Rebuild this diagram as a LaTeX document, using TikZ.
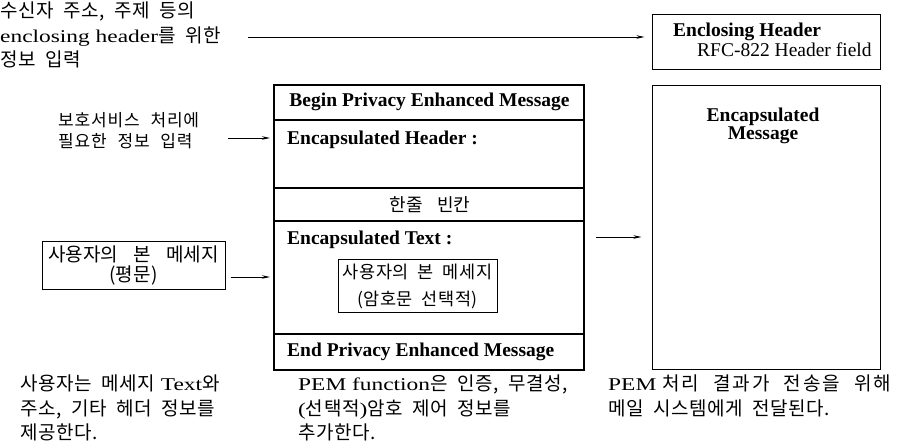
\documentclass[tikz,border=0pt]{standalone}
\usepackage{fontspec}
\setmainfont{Liberation Serif}
\newfontfamily\kr{Noto Sans CJK KR}[LetterSpace=3, WordSpace=2]
\newfontfamily\krp{Noto Sans CJK KR}[LetterSpace=5, WordSpace=2.3]
\newfontfamily\krw{Noto Sans CJK KR}[LetterSpace=0.3, WordSpace=3.5]
\newfontfamily\krx{Noto Sans CJK KR}[LetterSpace=11, WordSpace=2.2]
\newfontfamily\capfont{Liberation Serif}[FakeStretch=1.3]
\usetikzlibrary{arrows.meta}
\newcommand{\K}[1]{{\fontsize{19}{24.5}\selectfont\kr #1}}
\newcommand{\KX}[1]{{\fontsize{19}{24.5}\selectfont\krx #1}}
\tikzset{
  txt/.style={inner sep=0pt, align=left, font=\fontsize{18}{24.5}\selectfont\capfont},
  lbl/.style={inner sep=0pt, font=\fontsize{19.5}{20}\selectfont\bfseries},
  box/.style={draw, line width=1pt, inner sep=0pt},
  arr/.style={line width=0.8pt, -{Stealth[length=8pt,width=3.5pt]}},
  divider/.style={line width=1.2pt}
}
\begin{document}
\begin{tikzpicture}[x=1pt,y=-1pt]
\useasboundingbox (0,0) rectangle (900,446);
% main PEM box
\node[draw, line width=2.2pt, inner sep=0pt, minimum width=310, minimum height=285, anchor=north west] (main) at (273,84) {};
\draw[divider] (273,120) -- (583,120);
\draw[divider] (273,188) -- (583,188);
\draw[divider] (273,221) -- (583,221);
\draw[divider] (273,334) -- (583,334);
\node[lbl] (begin) at (429.5,102) {Begin Privacy Enhanced Message};
\node[lbl, anchor=west] (eh) at (287,140) {Encapsulated Header :};
\node[inner sep=0pt, font=\fontsize{18}{20}\selectfont\krw] (blank) at (430,205) {한줄 빈칸};
\node[lbl, anchor=west] (et) at (287,240) {Encapsulated Text :};
\node[box, minimum width=159, minimum height=53, align=center, font=\fontsize{17.5}{27}\selectfont\kr] (inner) at (417.5,286.5) {사용자의 본 메세지\\(암호문 선택적)};
\node[lbl, anchor=west] (end) at (287,352) {End Privacy Enhanced Message};
% right boxes
\node[box, minimum width=228, minimum height=55] (hdr) at (766,42.5) {};
\node[lbl, anchor=base west] (hdrt) at (673,37) {Enclosing Header};
\node[inner sep=0pt, anchor=base west, font=\fontsize{19.5}{20}\selectfont] (hdrs) at (697,57) {RFC-822 Header field};
\node[box, minimum width=228, minimum height=284] (encap) at (766,228) {};
\node[inner sep=0pt, align=center, anchor=base, font=\fontsize{19.5}{18.5}\selectfont\bfseries] (encapt) at (763,140) {Encapsulated\\Message};
% left side
\node[txt, anchor=north west] (top) at (0,2) {\K{수신자 주소, 주제 등의}\\enclosing header\K{를 위한}\\\K{정보 입력}};
\node[inner sep=0pt, align=left, anchor=north west, font=\fontsize{17}{21}\selectfont\krp] (prot) at (58,112) {보호서비스 처리에\\필요한 정보 입력};
\node[box, minimum width=183, minimum height=48, align=center, font=\fontsize{19}{20}\selectfont\krw] (user) at (133.5,266) {사용자의 본 메세지\\(평문)};
% bottom captions
\node[txt, anchor=north west] (c1) at (20,375) {\K{사용자는 메세지} Text\K{와}\\\K{주소, 기타 헤더 정보를}\\\K{제공한다.}};
\node[txt, anchor=north west] (c2) at (298,375) {PEM function\K{은 인증, 무결성,}\\(\K{선택적})\K{암호 제어 정보를}\\\K{추가한다.}};
\node[txt, anchor=north west] (c3) at (608,375) {PEM \KX{처리 결과가 전송을 위해}\\\K{메일 시스템에게 전달된다.}};
% connectors
\coordinate (s1) at (248,37);
\draw[arr, shorten >=7pt] (s1) -- (hdr.west |- s1);
\coordinate (s2) at (228,138);
\draw[arr, shorten >=3pt] (s2) -- (main.west |- s2);
\coordinate (s3) at (0,277);
\draw[arr, shorten <=5pt, shorten >=3pt] (user.east |- s3) -- (main.west |- s3);
\coordinate (s4) at (0,237);
\draw[arr, shorten <=11pt, shorten >=10pt] (main.east |- s4) -- (encap.west |- s4);
\end{tikzpicture}
\end{document}
